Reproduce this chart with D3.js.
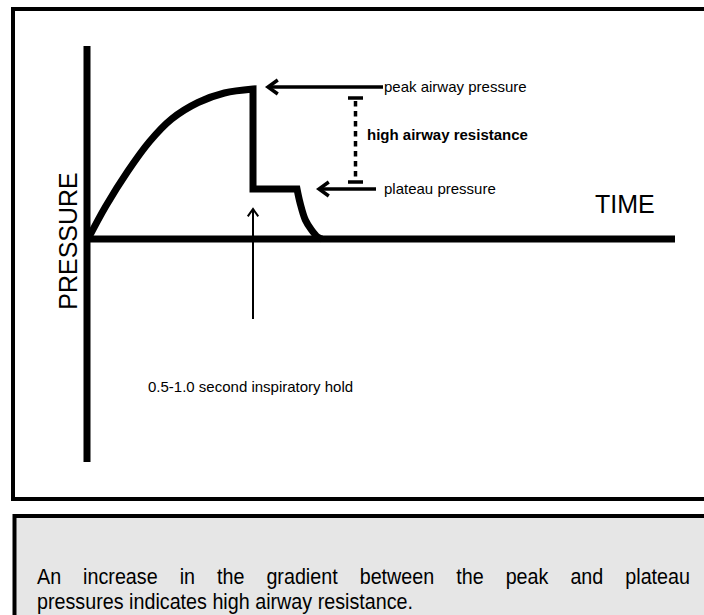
<!DOCTYPE html>
<html>
<head>
<meta charset="utf-8">
<script src="https://cdn.jsdelivr.net/npm/d3@7"></script>
<style>
  html, body { margin: 0; padding: 0; background: #fff; overflow: hidden; }
  svg { display: block; }
  text { font-family: "Liberation Sans", Arial, sans-serif; fill: #000; }
</style>
</head>
<body>
<svg id="chart" width="704" height="615"></svg>
<script>
// waveform (time in s, pressure in arbitrary cmH2O)
var riseTime = [0, 0.2, 0.45, 0.7, 0.95, 1.25, 1.55, 1.875];
var risePressure = [0, 6.5, 13.5, 19.5, 24.0, 27.3, 29.2, 30];
var holdTime = [1.875, 1.875, 2.375];
var holdPressure = [30, 10, 10];
var decayTime = [2.375, 2.41, 2.47, 2.54, 2.61, 2.66];
var decayPressure = [10, 7.2, 3.8, 1.8, 0.4, 0];

var timeExtent = [0, 6.67];
var pressureExtent = [-44.6, 38.6];
var peakPressure = 30;
var plateauPressure = 10;
var peakTime = 1.875;
var holdEndTime = 2.375;

var labels = {
  x: "TIME",
  y: "PRESSURE",
  peak: "peak airway pressure",
  plateau: "plateau pressure",
  gap: "high airway resistance",
  hold: "0.5-1.0 second inspiratory hold"
};
var captionLines = [
  "An increase in the gradient between the peak and plateau",
  "pressures indicates high airway resistance."
];

var svg = d3.select("#chart");

var x = d3.scaleLinear().domain([0, 6.67]).range([88, 675]);
var y = d3.scaleLinear().domain([0, 30]).range([239, 89]);

// frames
svg.append("rect")
  .attr("x", 13).attr("y", 9)
  .attr("width", 720).attr("height", 490)
  .attr("fill", "#fff").attr("stroke", "#000").attr("stroke-width", 4);

svg.append("rect")
  .attr("x", 14.5).attr("y", 516)
  .attr("width", 720).attr("height", 140)
  .attr("fill", "#e6e6e6").attr("stroke", "#000").attr("stroke-width", 4);

// axes
var axes = svg.append("g").attr("stroke", "#000").attr("stroke-width", 7);
axes.append("line")
  .attr("x1", x(0) - 1).attr("x2", x(0) - 1)
  .attr("y1", y(pressureExtent[1])).attr("y2", y(pressureExtent[0]));
axes.append("line")
  .attr("x1", x(0) - 4).attr("x2", x(timeExtent[1]))
  .attr("y1", y(0)).attr("y2", y(0));

// waveform: curved rise, vertical drop + plateau, curved decay
var smooth = d3.line()
  .x(function (d) { return x(d[0]); })
  .y(function (d) { return y(d[1]); })
  .curve(d3.curveCatmullRom.alpha(0.5));
var straight = d3.line()
  .x(function (d) { return x(d[0]); })
  .y(function (d) { return y(d[1]); });

var rise = smooth(d3.zip(riseTime, risePressure));
var hold = straight(d3.zip(holdTime, holdPressure)).replace(/^M/, "L");
var decay = smooth(d3.zip(decayTime, decayPressure)).replace(/^M/, "L");

svg.append("path")
  .attr("d", rise + hold + decay)
  .attr("fill", "none")
  .attr("stroke", "#000")
  .attr("stroke-width", 7)
  .attr("stroke-linejoin", "miter");

// arrow helper: line with an open chevron head at (x1,y1)
function arrow(x1, y1, x2, y2, w, head) {
  var g = svg.append("g")
    .attr("stroke", "#000").attr("stroke-width", w).attr("fill", "none");
  g.append("line").attr("x1", x1).attr("y1", y1).attr("x2", x2).attr("y2", y2);
  var a = Math.atan2(y2 - y1, x2 - x1);
  var p = [
    [x1 + head * Math.cos(a + 0.62), y1 + head * Math.sin(a + 0.62)],
    [x1, y1],
    [x1 + head * Math.cos(a - 0.62), y1 + head * Math.sin(a - 0.62)]
  ];
  g.append("path").attr("d", d3.line()(p)).attr("stroke-linejoin", "miter");
}

arrow(x(peakTime) + 15, y(peakPressure) - 2, 383, y(peakPressure) - 2, 3.5, 12);
arrow(x(holdEndTime) + 22, y(plateauPressure), 376, y(plateauPressure), 3.5, 12);
arrow(x(peakTime), 209, x(peakTime), 319, 2, 9);

// dashed gap marker
var gx = 355.5;
var gTop = y(peakPressure) + 9, gBot = y(plateauPressure) - 7;
var gap = svg.append("g").attr("stroke", "#000").attr("stroke-width", 3.5);
gap.append("line").attr("x1", gx).attr("x2", gx).attr("y1", gTop).attr("y2", gBot)
  .attr("stroke-dasharray", "5.5,4.5").attr("stroke-dashoffset", -3);
gap.append("line").attr("x1", gx - 7.5).attr("x2", gx + 7.5).attr("y1", gTop).attr("y2", gTop);
gap.append("line").attr("x1", gx - 7.5).attr("x2", gx + 7.5).attr("y1", gBot).attr("y2", gBot);

// labels
svg.append("text").attr("x", 384).attr("y", y(peakPressure) + 3)
  .style("font-size", "15px").text(labels.peak);
svg.append("text").attr("x", 384).attr("y", y(plateauPressure) + 5)
  .style("font-size", "15px").text(labels.plateau);
svg.append("text").attr("x", 367).attr("y", 140)
  .style("font-size", "15px").style("font-weight", "bold").text(labels.gap);
svg.append("text").attr("x", 148).attr("y", 392)
  .style("font-size", "15px").text(labels.hold);

svg.append("text").attr("x", 595).attr("y", 213)
  .style("font-size", "25px").text(labels.x);
svg.append("text")
  .attr("transform", "translate(77,241) rotate(-90)")
  .attr("text-anchor", "middle")
  .style("font-size", "25px").text(labels.y);

// caption: first line justified, second line left aligned
var capFont = "'Liberation Sans Narrow', 'Arial Narrow', 'Liberation Sans', Arial, sans-serif";
var capLeft = 37, capRight = 690, capSize = "21.5px";

var line2 = svg.append("text")
  .attr("x", capLeft).attr("y", 609)
  .style("font-family", capFont).style("font-size", capSize)
  .text(captionLines[1]);
var natural2 = line2.node().getComputedTextLength();
var squeeze = 376 / natural2;
line2.attr("textLength", 376).attr("lengthAdjust", "spacingAndGlyphs");

var words = captionLines[0].split(" ");
var widths = words.map(function (w) {
  var t = svg.append("text").style("font-family", capFont).style("font-size", capSize).text(w);
  var len = t.node().getComputedTextLength() * squeeze;
  t.remove();
  return len;
});
var gapW = (capRight - capLeft - d3.sum(widths)) / (words.length - 1);
var cx = capLeft;
words.forEach(function (w, i) {
  svg.append("text")
    .attr("x", cx).attr("y", 584)
    .attr("textLength", widths[i]).attr("lengthAdjust", "spacingAndGlyphs")
    .style("font-family", capFont).style("font-size", capSize)
    .text(w);
  cx += widths[i] + gapW;
});
</script>
</body>
</html>
